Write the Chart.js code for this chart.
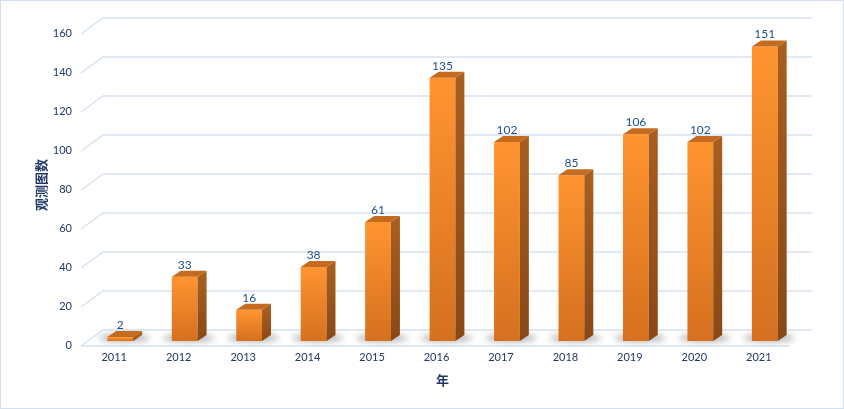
<!DOCTYPE html>
<html>
<head>
<meta charset="utf-8">
<script src="https://cdn.jsdelivr.net/npm/chart.js@4/dist/chart.umd.min.js"></script>
<style>
  html, body { margin: 0; padding: 0; background: #fff; }
  #wrap { width: 844px; height: 409px; }
</style>
</head>
<body>
<div id="wrap"><canvas id="chart" width="844" height="409"></canvas></div>
<script>
const years = ["2011", "2012", "2013", "2014", "2015", "2016", "2017", "2018", "2019", "2020", "2021"];
const counts = [2, 33, 16, 38, 61, 135, 102, 85, 106, 102, 151];
const yTicks = [0, 20, 40, 60, 80, 100, 120, 140, 160];

// 3D offsets (px) relative to the bar plane
const FRONT = { dx: -7, dy: 5 };
const BACK = { dx: 15, dy: -11 };
const DEPTH = { dx: 9, dy: -6 };

function frontFill(ctx) {
    const chart = ctx.chart;
    const y = chart.scales.y;
    if (!y || !chart.chartArea || ctx.raw === undefined) return "#f08424";
    const top = y.getPixelForValue(ctx.raw);
    const bottom = y.getPixelForValue(0);
    const g = chart.ctx.createLinearGradient(0, top, 0, bottom);
    g.addColorStop(0, "#ff9430");
    g.addColorStop(1, "#d5701f");
    return g;
}

const wallPlugin = {
    id: "wall",
    beforeDatasetsDraw(chart) {
        const { ctx, chartArea: a, scales: { y } } = chart;
        ctx.save();
        ctx.strokeStyle = "#d8e3f1";
        ctx.lineWidth = 1.5;
        yTicks.forEach(v => {
            const py = y.getPixelForValue(v);
            ctx.beginPath();
            ctx.moveTo(a.left + FRONT.dx, py + FRONT.dy);
            ctx.lineTo(a.left + BACK.dx, py + BACK.dy);
            ctx.lineTo(a.right + BACK.dx, py + BACK.dy);
            ctx.stroke();
        });
        const p0 = y.getPixelForValue(0);
        ctx.beginPath();
        ctx.moveTo(a.left + FRONT.dx, p0 + FRONT.dy);
        ctx.lineTo(a.right + FRONT.dx, p0 + FRONT.dy);
        ctx.stroke();

        // soft floor shadows
        const meta = chart.getDatasetMeta(0);
        ctx.filter = "blur(3px)";
        ctx.fillStyle = "rgba(60,60,60,0.38)";
        meta.data.forEach(el => {
            ctx.beginPath();
            ctx.ellipse(el.x + 4, el.base - 3, el.width * 1.0, 4, 0, 0, Math.PI * 2);
            ctx.fill();
        });
        ctx.restore();
    },
    afterDatasetsDraw(chart) {
        const { ctx } = chart;
        const meta = chart.getDatasetMeta(0);
        ctx.save();
        meta.data.forEach((el, i) => {
            const l = el.x - el.width / 2;
            const r = el.x + el.width / 2;
            const t = el.y;
            const b = el.base;
            // side
            const sg = ctx.createLinearGradient(0, t, 0, b);
            sg.addColorStop(0, "#a85e1d");
            sg.addColorStop(1, "#884815");
            ctx.fillStyle = sg;
            ctx.beginPath();
            ctx.moveTo(r, t);
            ctx.lineTo(r + DEPTH.dx, t + DEPTH.dy);
            ctx.lineTo(r + DEPTH.dx, b + DEPTH.dy);
            ctx.lineTo(r, b);
            ctx.closePath();
            ctx.fill();
            // top
            ctx.fillStyle = "#c46b1f";
            ctx.beginPath();
            ctx.moveTo(l, t);
            ctx.lineTo(l + DEPTH.dx, t + DEPTH.dy);
            ctx.lineTo(r + DEPTH.dx, t + DEPTH.dy);
            ctx.lineTo(r, t);
            ctx.closePath();
            ctx.fill();
            // value label
            ctx.fillStyle = "#1f4e8c";
            ctx.font = "12px Lato";
            ctx.textAlign = "center";
            ctx.textBaseline = "middle";
            ctx.fillText(String(counts[i]), el.x, t - 12);
        });
        ctx.restore();
    },
    afterDraw(chart) {
        const { ctx, width, height } = chart;
        ctx.save();
        ctx.strokeStyle = "#d3dfee";
        ctx.lineWidth = 1;
        ctx.strokeRect(0.5, 0.5, width - 1, height - 1);
        ctx.restore();
    }
};

new Chart(document.getElementById("chart").getContext("2d"), {
    type: "bar",
    data: {
        labels: years,
        datasets: [{
            data: counts,
            backgroundColor: frontFill,
            borderWidth: 0,
            barPercentage: 0.4,
            categoryPercentage: 1.0
        }]
    },
    options: {
        responsive: false,
        animation: false,
        layout: { padding: { left: 25, top: 29, right: 47, bottom: 0 } },
        plugins: {
            legend: { display: false },
            tooltip: { enabled: false }
        },
        scales: {
            x: {
                grid: { display: false, drawTicks: false },
                border: { display: false },
                ticks: { color: "#203864", font: { family: "Lato", size: 11 }, padding: 10, labelOffset: -6, maxRotation: 0 },
                title: {
                    display: true,
                    text: "年",
                    color: "#1f3864",
                    font: { family: "'Noto Sans CJK SC'", size: 13, weight: "bold" },
                    padding: { top: 0, bottom: 21 }
                },
                afterFit: s => { s.height = 68; }
            },
            y: {
                min: 0,
                max: 160,
                grid: { display: false, drawTicks: false },
                border: { display: false },
                ticks: { stepSize: 20, color: "#203864", font: { family: "Lato", size: 11 }, padding: 16, labelOffset: 4 },
                title: {
                    display: true,
                    text: "观测图数",
                    color: "#1f3864",
                    font: { family: "'Noto Sans CJK SC'", size: 13, weight: "bold" },
                    padding: { top: 8, bottom: 0 }
                },
                afterFit: s => { s.width = 63; }
            }
        }
    },
    plugins: [wallPlugin]
});
</script>
</body>
</html>
